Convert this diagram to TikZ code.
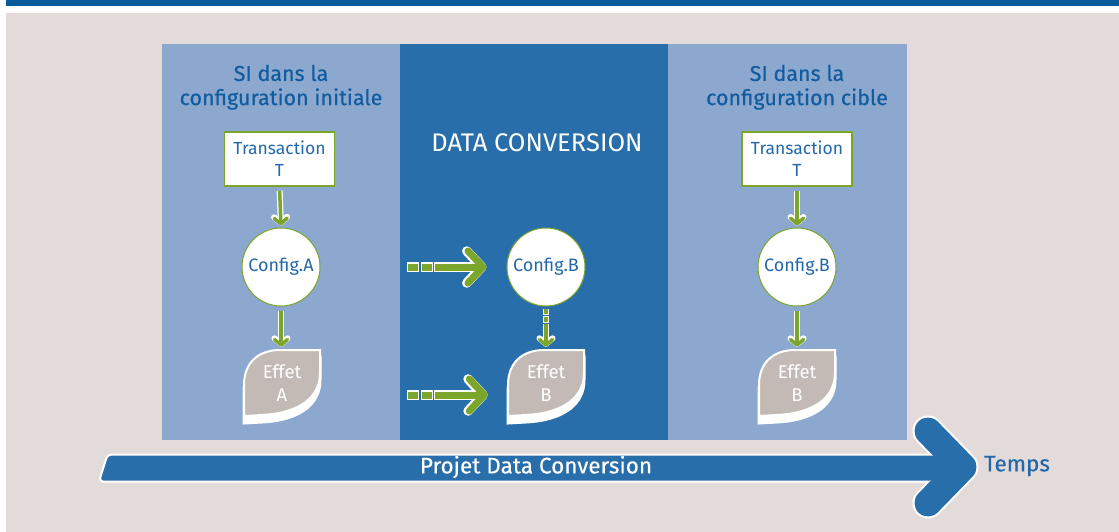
\documentclass[tikz,border=0pt]{standalone}
\usepackage{fontspec}
\setmainfont{Fira Sans}
\newfontfamily\medf{Fira Sans}[FakeBold=0.3]
\usetikzlibrary{arrows.meta,calc}
\definecolor{topbar}{HTML}{0A5A9C}
\definecolor{bgc}{HTML}{E3DBD9}
\definecolor{lblue}{HTML}{8CA8CF}
\definecolor{dblue}{HTML}{286EAB}
\definecolor{tblue}{HTML}{0F5CA0}
\definecolor{nblue}{HTML}{2368AA}
\definecolor{agreen}{HTML}{7BA52B}
\definecolor{leafgrey}{HTML}{C4BAB5}
\tikzset{
  x=1pt, y=-1pt,
  fsz/.style={font=\fontsize{#1}{#1}\selectfont},
  mfsz/.style={font=\medf\fontsize{#1}{#1}\selectfont},
  paneltitle/.style={text=tblue, mfsz=21.5, align=center},
  transbox/.style={rectangle, draw=agreen, line width=1.5pt, fill=white, minimum width=110pt, minimum height=54pt, text=nblue, align=center, font=\fontsize{17.5}{22}\selectfont, inner sep=0pt},
  confc/.style={circle, draw=agreen, line width=1pt, fill=white, minimum size=78pt, text=nblue, fsz=18, inner sep=0pt},
  leafnode/.style={rectangle, minimum width=76pt, minimum height=66pt, text=white, align=center, font=\fontsize{18.5}{23}\selectfont, inner sep=0pt},
  gtip/.style={-{Straight Barb[round, length=5.5pt, width=13pt]}},
  garrow/.style={draw=agreen, line width=3.5pt, gtip,
    preaction={draw=white, line width=6pt, gtip}},
  gdarrow/.style={draw=agreen, line width=3.5pt, gtip,
    dash pattern=on 0pt off 0.75pt on 5pt off 2.5pt on 5pt off 2.5pt on 200pt,
    preaction={draw=white, line width=6pt, gtip, dash pattern=on 6.5pt off 1pt on 6.5pt off 1pt on 200pt}},
  btip/.style={-{Straight Barb[round, length=15pt, width=32pt]}},
  bigarrow/.style={draw=agreen, line width=7pt, btip,
    dash pattern=on 0pt off 1pt on 10pt off 3.5pt on 10pt off 3.5pt on 300pt,
    preaction={draw=white, line width=9.5pt, btip, dash pattern=on 12pt off 1.5pt on 12pt off 1.5pt on 300pt}},
  leaf/.pic={
    \path[fill=white, draw=white, line width=3pt]
      (-38,40) -- (-38,9) .. controls (-38,-13) and (-24,-26) .. (-2,-26) -- (38,-26) -- (38,-3) .. controls (38,21) and (18,37) .. (-20,39) -- cycle;
    \path[fill=leafgrey, draw=white, line width=2pt]
      (-38,33) -- (-38,2) .. controls (-38,-20) and (-24,-33) .. (-2,-33) -- (38,-33) -- (38,-10) .. controls (38,14) and (18,30) .. (-20,32) -- cycle;
  }
}
\begin{document}
\begin{tikzpicture}
\useasboundingbox (0,0) rectangle (1119,532);
\fill[white] (0,0) rectangle (1119,532);
\fill[topbar] (6,0) rectangle (1119,6.5);
\fill[bgc] (6,13) rectangle (1119,532);
% panels
\fill[lblue] (162,44) rectangle (400,440);
\fill[dblue] (400,44) rectangle (668,440);
\fill[lblue] (668,44) rectangle (907,440);

% titles
\node[paneltitle] (tl1) at (281,73) {SI dans la};
\node[paneltitle] (tl2) at (281,99) {configuration initiale};
\node[paneltitle] (tr1) at (797,73) {SI dans la};
\node[paneltitle] (tr2) at (797,99) {configuration cible};
\node[text=white, fsz=25.5] (dc) at (537,143) {DATA CONVERSION};

% left column
\node[transbox] (tA) at (279.5,159) {Transaction\\T};
\node[confc] (cA) at (281,267) {Config.A};
\pic at (282,383) {leaf};
\node[leafnode] (eA) at (282,383) {Effet\\A};
\draw[garrow, shorten <=4pt, shorten >=2pt] (tA.south) -- (cA.north);
\draw[garrow, shorten <=4pt, shorten >=3pt] (cA.south) -- (cA.south |- eA.north);

% middle column
\node[confc] (cB) at (546,267) {Config.B};
\pic at (546,383) {leaf};
\node[leafnode] (eB) at (546,383) {Effet\\B};
\draw[gdarrow, shorten <=2pt, shorten >=3pt] (cB.south) -- (cB.south |- eB.north);
\coordinate (h1s) at (407,267);
\coordinate (h2s) at (407,395);
\draw[bigarrow, shorten >=20pt] (h1s) -- (cB);
\draw[bigarrow, shorten >=20pt] (h2s) -- (h2s -| eB.west);

% right column
\node[transbox] (tC) at (797,159) {Transaction\\T};
\node[confc] (cC) at (797,267) {Config.B};
\pic at (797,383) {leaf};
\node[leafnode] (eC) at (797,383) {Effet\\B};
\draw[garrow, shorten <=4pt, shorten >=2pt] (tC.south) -- (cC.north);
\draw[garrow, shorten <=4pt, shorten >=3pt] (cC.south) -- (cC.south |- eC.north);

% time arrow
\draw[white, line width=31pt, line cap=round, line join=round] (928,431) -- (963,467) -- (928,503);
\path[fill=dblue, draw=white, line width=2pt, rounded corners=4pt] (99,481.5) -- (107.5,454.5) -- (950,454.5) -- (950,481.5) -- cycle;
\draw[dblue, line width=27pt, line cap=round, line join=round] (928,431) -- (963,467) -- (928,503);
\node[text=white, mfsz=22.5] (pdc) at (536,467) {Projet Data Conversion};
\node[text=nblue, mfsz=22.5] (tps) at (1017,466) {Temps};
\end{tikzpicture}
\end{document}
